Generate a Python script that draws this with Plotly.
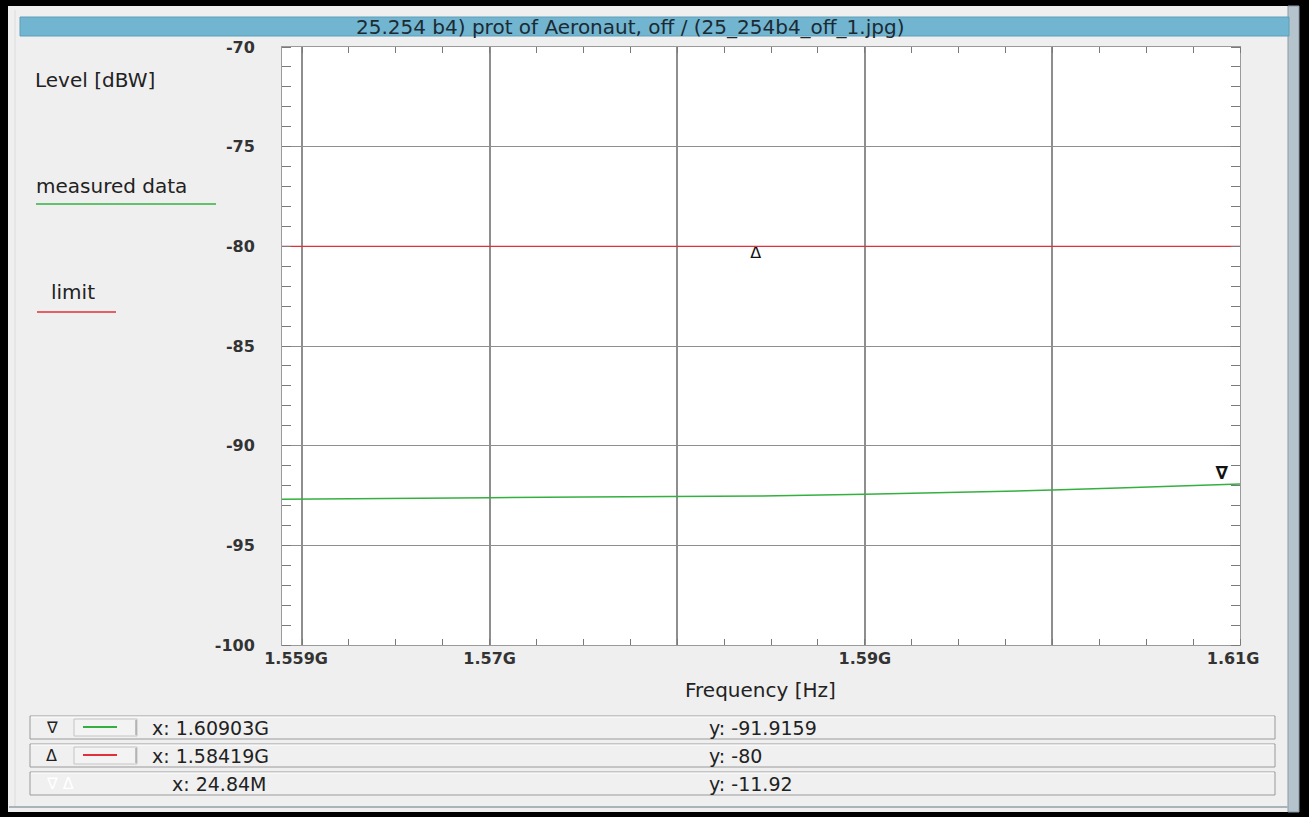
import plotly.graph_objects as go

# ---- measurement data -------------------------------------------------
freq_hz = [1.55893e9, 1.5600e9, 1.5650e9, 1.5700e9, 1.5750e9, 1.5775e9, 1.5800e9,
           1.5844e9, 1.5900e9, 1.5950e9, 1.6000e9, 1.6035e9, 1.6070e9, 1.6090e9,
           1.6100e9]
level_dbw = [-92.69, -92.68, -92.64, -92.61, -92.58, -92.56, -92.55,
             -92.53, -92.44, -92.35, -92.23, -92.12, -92.01, -91.93,
             -91.92]

limit_freq = [1.55893e9, 1.61e9]
limit_dbw = [-80.0, -80.0]

# marker readouts (marker 1 on measured data, marker 2 on limit)
m1_x, m1_y = 1.60903e9, -91.9159
m2_x, m2_y = 1.58419e9, -80.0

x_range = [1.55893e9, 1.61e9]
y_range = [-100, -70]
grid_x = [1.56e9, 1.57e9, 1.58e9, 1.59e9, 1.60e9, 1.61e9]
minor_x = [1.56e9 + i * 2.5e6 for i in range(-1, 21)]
label_x = [1.55968e9, 1.57e9, 1.59e9, 1.60963e9]
label_text = ["1.559G", "1.57G", "1.59G", "1.61G"]
y_ticks = [-100, -95, -90, -85, -80, -75, -70]
y_labels = ["-100", "-95", "-90", "-85", "-80", "-75", "-70"]

title_text = "25.254 b4) prot of Aeronaut, off / (25_254b4_off_1.jpg)"

W, H = 1309, 817
FONT = "DejaVu Sans, Liberation Sans, sans-serif"
GREEN = "#35b040"
RED = "#e0303a"
GRID = "#8e8e8e"
BG = "#efefef"


def px(x):
    return x / W


def py(y):
    return 1 - y / H


fig = go.Figure()

fig.add_trace(go.Scatter(x=freq_hz, y=level_dbw, mode="lines", name="measured data",
                         line=dict(color=GREEN, width=1.5), xaxis="x", yaxis="y"))
fig.add_trace(go.Scatter(x=limit_freq, y=limit_dbw, mode="lines", name="limit",
                         line=dict(color=RED, width=1.2), xaxis="x2", yaxis="y"))
# marker glyphs
fig.add_trace(go.Scatter(x=[m1_x], y=[m1_y], mode="text", text=["\u2207"],
                         textposition="top center", cliponaxis=False,
                         textfont=dict(family="DejaVu Sans", size=18, color="#111",
                                       weight="bold"),
                         xaxis="x", yaxis="y"))
fig.add_trace(go.Scatter(x=[m2_x], y=[m2_y], mode="text", text=["\u0394"],
                         textposition="bottom center", cliponaxis=False,
                         textfont=dict(family="DejaVu Sans", size=16, color="#111"),
                         xaxis="x", yaxis="y"))

xdom = [px(282), px(1240)]
ydom = [py(645), py(47)]
tick_font = dict(family="DejaVu Sans", size=16, color="#333", weight="bold")

fig.update_layout(
    width=W, height=H,
    margin=dict(l=0, r=0, t=0, b=0, autoexpand=False),
    paper_bgcolor=BG, plot_bgcolor="white",
    showlegend=False,
    font=dict(family=FONT, color="#222"),
    xaxis=dict(domain=xdom, range=x_range, anchor="y", automargin=False,
               tickmode="array", tickvals=grid_x, showticklabels=False,
               ticks="", showgrid=True, gridcolor=GRID, gridwidth=2,
               zeroline=False, showline=True, linecolor="#9a9a9a", linewidth=1,
               mirror="ticks",
               minor=dict(tickmode="array", tickvals=minor_x, ticks="inside",
                          ticklen=6, tickcolor="#7a7a7a", showgrid=False)),
    xaxis2=dict(domain=xdom, range=x_range, overlaying="x", anchor="y", side="bottom",
                automargin=False,
                tickmode="array", tickvals=label_x, ticktext=label_text,
                ticks="", showgrid=False, zeroline=False, showline=False,
                ticklabelstandoff=2, tickfont=tick_font),
    yaxis=dict(domain=ydom, range=y_range, anchor="x", automargin=False,
               tickmode="array", tickvals=y_ticks, ticktext=y_labels,
               ticks="", showgrid=True, gridcolor=GRID, gridwidth=1,
               zeroline=False, showline=True, linecolor="#9a9a9a", linewidth=1,
               mirror="ticks", ticklabelstandoff=23, tickfont=tick_font,
               minor=dict(dtick=1, ticks="inside", ticklen=9, tickcolor="#7a7a7a",
                          showgrid=False)),
)

shapes = []
annotations = []

# window frame
for (x0, y0, x1, y1) in [(0, 0, 8, H), (0, 0, W, 6), (1299, 0, W, H), (0, 812, W, H)]:
    shapes.append(dict(type="rect", xref="paper", yref="paper", x0=px(x0), x1=px(x1),
                       y0=py(y1), y1=py(y0), line=dict(width=0), fillcolor="black"))
shapes.append(dict(type="rect", xref="paper", yref="paper", x0=px(1288), x1=px(1299),
                   y0=py(812), y1=py(6), line=dict(color="#8a9aa4", width=1),
                   fillcolor="#b4c3cc"))
shapes.append(dict(type="line", xref="paper", yref="paper", x0=px(9), x1=px(1288),
                   y0=py(807), y1=py(807), line=dict(color="#a9b4ba", width=2)))
shapes.append(dict(type="line", xref="paper", yref="paper", x0=px(15), x1=px(15),
                   y0=py(806), y1=py(10), line=dict(color="#dcdcdc", width=1)))

# title bar
shapes.append(dict(type="rect", xref="paper", yref="paper", x0=px(20), x1=px(1289),
                   y0=py(36), y1=py(17), line=dict(color="#5f9fb8", width=1),
                   fillcolor="#71b5d0"))
annotations.append(dict(text=title_text, xref="paper", yref="paper", x=px(630), y=py(26.5),
                        showarrow=False, xanchor="center", yanchor="middle",
                        font=dict(family=FONT, size=20, color="#1c2a33")))

# axis labels
annotations.append(dict(text="Level [dBW]", xref="paper", yref="paper", x=px(33), y=py(80),
                        showarrow=False, xanchor="left", yanchor="middle",
                        font=dict(family=FONT, size=20, color="#222")))
annotations.append(dict(text="Frequency [Hz]", xref="paper", yref="paper", x=px(760), y=py(690),
                        showarrow=False, xanchor="center", yanchor="middle",
                        font=dict(family=FONT, size=20, color="#222")))

# legend
annotations.append(dict(text="measured data", xref="paper", yref="paper", x=px(34), y=py(186),
                        showarrow=False, xanchor="left", yanchor="middle",
                        font=dict(family=FONT, size=20, color="#222")))
shapes.append(dict(type="line", xref="paper", yref="paper", x0=px(36), x1=px(216),
                   y0=py(204), y1=py(204), line=dict(color=GREEN, width=1.5)))
annotations.append(dict(text="limit", xref="paper", yref="paper", x=px(49), y=py(292),
                        showarrow=False, xanchor="left", yanchor="middle",
                        font=dict(family=FONT, size=20, color="#222")))
shapes.append(dict(type="line", xref="paper", yref="paper", x0=px(37), x1=px(116),
                   y0=py(312), y1=py(312), line=dict(color=RED, width=1.5)))

# marker readout rows
dx = m1_x - m2_x
dy = m1_y - m2_y
rows = [
    ("\u2207", GREEN, f"x: {m1_x / 1e9:.5f}G", f"y: {m1_y:g}", 150, "#222"),
    ("\u0394", RED, f"x: {m2_x / 1e9:.5f}G", f"y: {m2_y:g}", 150, "#222"),
    ("\u2207 \u0394", None, f"x: {dx / 1e6:.2f}M", f"y: {dy:.2f}", 170, "#ffffff"),
]
row_tops = [716, 744, 772]
for (sym, col, xt, yt, xpos, symcol), top in zip(rows, row_tops):
    bot = top + 23
    mid = (top + bot) / 2
    shapes.append(dict(type="rect", xref="paper", yref="paper", x0=px(30), x1=px(1275),
                       y0=py(bot), y1=py(top), line=dict(color="#9a9a9a", width=1),
                       fillcolor="#f0f0f0"))
    shapes.append(dict(type="line", xref="paper", yref="paper", x0=px(31), x1=px(1274),
                       y0=py(top + 1), y1=py(top + 1), line=dict(color="white", width=1)))
    if col is not None:
        shapes.append(dict(type="rect", xref="paper", yref="paper", x0=px(74), x1=px(137),
                           y0=py(bot - 3), y1=py(top + 3), line=dict(color="#c4c4c4", width=1),
                           fillcolor="#f3f3f3"))
        shapes.append(dict(type="line", xref="paper", yref="paper", x0=px(83), x1=px(117),
                           y0=py(top + 11), y1=py(top + 11), line=dict(color=col, width=2)))
        shapes.append(dict(type="line", xref="paper", yref="paper", x0=px(136), x1=px(136),
                           y0=py(bot - 4), y1=py(top + 4), line=dict(color="#8a8a8a", width=1)))
    annotations.append(dict(text=sym, xref="paper", yref="paper", x=px(44), y=py(mid),
                            showarrow=False, xanchor="left", yanchor="middle",
                            font=dict(family="DejaVu Sans", size=16, color=symcol)))
    annotations.append(dict(text=xt, xref="paper", yref="paper", x=px(xpos), y=py(mid),
                            showarrow=False, xanchor="left", yanchor="middle",
                            font=dict(family=FONT, size=19, color="#222")))
    annotations.append(dict(text=yt, xref="paper", yref="paper", x=px(707), y=py(mid),
                            showarrow=False, xanchor="left", yanchor="middle",
                            font=dict(family=FONT, size=19, color="#222")))

fig.update_layout(shapes=shapes, annotations=annotations)
fig.write_html("out.html",
               post_script="document.body.style.margin='0';"
                           "document.body.style.overflow='hidden';")
